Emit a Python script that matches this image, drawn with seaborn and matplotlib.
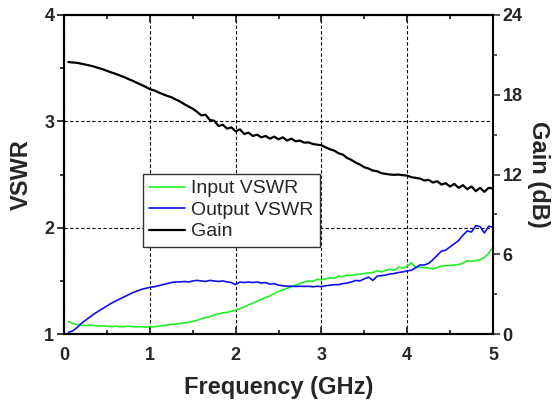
import numpy as np
import pandas as pd
import matplotlib
matplotlib.use("Agg")
import matplotlib.pyplot as plt
import seaborn as sns
from matplotlib.ticker import MultipleLocator

# frequency grid of the sweep (GHz)
freq = np.round(np.arange(1, 101) * 0.05, 2)

# values
gain_db = [
    20.46, 20.43, 20.40, 20.34, 20.27, 20.20, 20.12, 20.02, 19.92, 19.80,
    19.68, 19.58, 19.45, 19.33, 19.18, 19.05, 18.90, 18.75, 18.60, 18.42,
    18.33, 18.18, 18.05, 17.92, 17.82, 17.65, 17.50, 17.30, 17.12, 16.95,
    16.72, 16.45, 16.50, 16.10, 16.05, 15.65, 15.75, 15.45, 15.55, 15.25,
    15.40, 15.05, 15.15, 14.90, 15.00, 14.80, 14.90, 14.70, 14.85, 14.65,
    14.80, 14.55, 14.70, 14.50, 14.55, 14.40, 14.42, 14.30, 14.25, 14.20,
    14.05, 13.90, 13.80, 13.60, 13.50, 13.25, 13.10, 12.90, 12.75, 12.55,
    12.45, 12.30, 12.25, 12.10, 12.05, 12.00, 11.98, 12.00, 11.95, 11.92,
    11.80, 11.75, 11.70, 11.55, 11.60, 11.40, 11.50, 11.25, 11.35, 11.10,
    11.30, 11.00, 11.20, 10.90, 11.10, 10.75, 11.00, 10.70, 11.00, 10.95,
]
input_vswr = [
    1.120, 1.100, 1.090, 1.085, 1.080, 1.085, 1.080, 1.075, 1.080, 1.075,
    1.070, 1.075, 1.070, 1.070, 1.075, 1.070, 1.068, 1.070, 1.065, 1.070,
    1.068, 1.075, 1.080, 1.085, 1.090, 1.095, 1.100, 1.105, 1.110, 1.120,
    1.130, 1.145, 1.155, 1.165, 1.180, 1.190, 1.200, 1.205, 1.215, 1.225,
    1.240, 1.255, 1.275, 1.290, 1.310, 1.325, 1.345, 1.360, 1.380, 1.400,
    1.415, 1.430, 1.445, 1.460, 1.475, 1.490, 1.500, 1.495, 1.515, 1.510,
    1.520, 1.530, 1.525, 1.545, 1.540, 1.555, 1.550, 1.560, 1.565, 1.570,
    1.575, 1.580, 1.595, 1.585, 1.600, 1.610, 1.600, 1.630, 1.620, 1.640,
    1.670, 1.625, 1.630, 1.625, 1.620, 1.615, 1.625, 1.640, 1.645, 1.645,
    1.650, 1.655, 1.665, 1.690, 1.685, 1.690, 1.700, 1.720, 1.760, 1.820,
]
output_vswr = [
    1.015, 1.030, 1.060, 1.100, 1.130, 1.160, 1.190, 1.215, 1.240, 1.265,
    1.290, 1.310, 1.330, 1.350, 1.370, 1.390, 1.405, 1.420, 1.430, 1.440,
    1.445, 1.455, 1.465, 1.475, 1.485, 1.490, 1.490, 1.495, 1.490, 1.500,
    1.505, 1.500, 1.495, 1.505, 1.500, 1.495, 1.500, 1.490, 1.485, 1.465,
    1.490, 1.485, 1.490, 1.485, 1.490, 1.480, 1.485, 1.470, 1.475, 1.460,
    1.455, 1.450, 1.450, 1.448, 1.450, 1.448, 1.450, 1.445, 1.450, 1.447,
    1.455, 1.460, 1.465, 1.465, 1.475, 1.480, 1.490, 1.505, 1.500, 1.520,
    1.535, 1.505, 1.545, 1.550, 1.555, 1.565, 1.570, 1.580, 1.585, 1.595,
    1.600, 1.625, 1.650, 1.650, 1.665, 1.700, 1.740, 1.780, 1.790, 1.820,
    1.850, 1.880, 1.930, 1.970, 1.960, 2.020, 2.010, 1.950, 2.015, 2.005,
]

df = pd.DataFrame({"freq": freq, "input": input_vswr, "output": output_vswr, "gain": gain_db})

sns.set_style("ticks")
plt.rcParams["font.family"] = ["Liberation Sans", "DejaVu Sans"]

fig = plt.figure(figsize=(5.57, 4.05), dpi=100)
ax = fig.add_axes([0.115, 0.175, 0.77, 0.788])
ax2 = ax.twinx()

sns.lineplot(data=df, x="freq", y="input", ax=ax, color="#22ee22", lw=1.2, label="Input VSWR", legend=False)
sns.lineplot(data=df, x="freq", y="output", ax=ax, color="#1010ee", lw=1.2, label="Output VSWR", legend=False)
sns.lineplot(data=df, x="freq", y="gain", ax=ax2, color="black", lw=1.6, label="Gain", legend=False)

ax.set_xlim(0, 5)
ax.set_ylim(1, 4)
ax2.set_ylim(0, 24)

ax.xaxis.set_major_locator(MultipleLocator(1))
ax.xaxis.set_minor_locator(MultipleLocator(0.5))
ax.yaxis.set_major_locator(MultipleLocator(1))
ax.yaxis.set_minor_locator(MultipleLocator(0.5))
ax2.yaxis.set_major_locator(MultipleLocator(6))
ax2.yaxis.set_minor_locator(MultipleLocator(3))

ax.grid(True, which="major", color="black", ls=(0, (3, 2)), lw=0.8)
ax.set_axisbelow(True)

ax.tick_params(axis="x", which="both", direction="in", top=True, labelsize=13, width=1.3)
ax.tick_params(axis="x", which="major", length=5, pad=9)
ax.tick_params(axis="x", which="minor", length=3)
ax.tick_params(axis="y", which="major", direction="out", length=5, labelsize=13, width=1.3, pad=2)
ax.tick_params(axis="y", which="minor", direction="out", length=3, width=1.3)
ax2.tick_params(axis="y", which="major", direction="out", length=5, labelsize=13, width=1.1, pad=2)
ax2.tick_params(axis="y", which="minor", direction="out", length=3, width=1.1)

for lab in ax.get_xticklabels() + ax.get_yticklabels() + ax2.get_yticklabels():
    lab.set_fontweight("bold")

for a in (ax, ax2):
    for s in a.spines.values():
        s.set_linewidth(1.5)
        s.set_color("black")
ax2.spines["right"].set_linewidth(1.2)

ax.set_xlabel("Frequency (GHz)", fontsize=17, fontweight="bold", labelpad=9)
ax.set_ylabel("VSWR", fontsize=17, fontweight="bold", labelpad=8)
ax2.set_ylabel("Gain (dB)", fontsize=17, fontweight="bold", rotation=270, labelpad=20)

handles = ax.get_lines()[:2] + ax2.get_lines()[:1]
leg = ax.legend(handles, ["Input VSWR", "Output VSWR", "Gain"], loc="upper left",
                bbox_to_anchor=(0.183, 0.503), fontsize=14, frameon=True, fancybox=False,
                handlelength=1.85, handletextpad=0.32, borderpad=0.32, labelspacing=0.2,
                borderaxespad=0)
leg.get_frame().set_edgecolor("#333333")
leg.get_frame().set_linewidth(1.0)
leg.get_frame().set_alpha(1)
leg.set_zorder(10)
ax.set_zorder(ax2.get_zorder() + 1)
ax.patch.set_visible(False)

fig.savefig("out.png", dpi=100)
